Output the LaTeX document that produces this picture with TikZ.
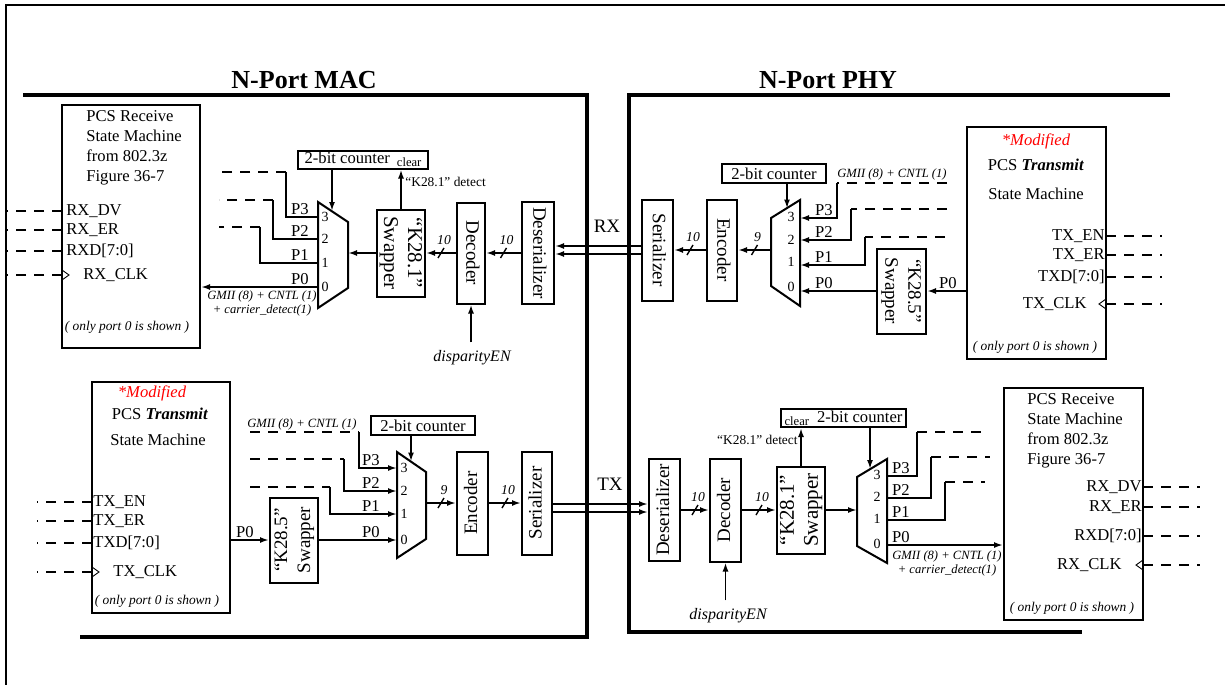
\documentclass[tikz,border=0pt]{standalone}
\usepackage{fontspec}
\setmainfont{Liberation Serif}
\usepackage{tikz}
\usetikzlibrary{arrows.meta,calc,positioning}

\newcommand{\txtfont}{\fontsize{8.3}{10}\selectfont}
\newcommand{\blkfont}{\fontsize{9.5}{11.5}\selectfont}
\newcommand{\swfont}{\fontsize{10.5}{12}\selectfont}
\newcommand{\notefont}{\fontsize{6.3}{7.3}\selectfont\itshape}
\newcommand{\onlyfont}{\fontsize{6.7}{8}\selectfont\itshape}
\newcommand{\clrfont}{\fontsize{6.3}{7}\selectfont}
\newcommand{\numfont}{\fontsize{7}{8}\selectfont}
\newcommand{\widfont}{\fontsize{6.8}{8}\selectfont\itshape}
\newcommand{\ttlfont}{\fontsize{13}{15}\selectfont\bfseries}
\newcommand{\vdown}[1]{\rotatebox{-90}{\begin{tabular}{@{}c@{}}#1\end{tabular}}}
\newcommand{\vup}[1]{\rotatebox{90}{\begin{tabular}{@{}c@{}}#1\end{tabular}}}

\tikzset{
  blkbox/.style={draw, line width=1pt, inner sep=0pt, font=\blkfont},
  smbox/.style={draw, line width=1pt, inner sep=0pt,
    minimum width=69pt, minimum height=116pt},
  cntbox/.style={draw, line width=1pt, inner sep=0pt,
    minimum height=9pt, font=\txtfont},
  smtext/.style={font=\txtfont, align=left, inner sep=0pt},
  modlabel/.style={font=\txtfont\itshape, text=red, inner sep=0pt},
  portlabel/.style={font=\txtfont, inner sep=0.5pt},
  plabel/.style={font=\txtfont, inner sep=0.5pt, anchor=south},
  muxnum/.style={font=\numfont, inner sep=0pt},
  notelabel/.style={font=\notefont, inner sep=0pt},
  onlylabel/.style={font=\onlyfont, inner sep=0pt},
  sidelabel/.style={font=\ttlfont, inner sep=0pt},
  linklabel/.style={font=\blkfont, inner sep=0pt},
  wire/.style={line width=0.9pt},
  wirearr/.style={wire, -{Latex[length=4.5pt,width=3pt]}},
  dwire/.style={line width=0.9pt, dash pattern=on 5pt off 4pt},
  muxedge/.style={line width=1pt},
  clk/.style={line width=0.45pt},
  border/.style={line width=1.8pt},
  frame/.style={line width=0.6pt},
  pics/buscut/.style={code={
    \draw[wire, line width=0.7pt] (-3,5) -- (3,-5);
    \node[font=\widfont, inner sep=0pt] (-w) at (3,-13) {#1};
  }}
}

\begin{document}
\begin{tikzpicture}[x=0.5pt, y=-0.5pt]
  \useasboundingbox (0,0) rectangle (1225,685);
  %\draw[help lines, step=50] (0,0) grid (1225,685);

  % ==== FRAME and SIDES ====
  \draw[frame] (1225,5) -- (6,5) -- (6,685);
  \node[sidelabel] (macTitle) at (304,80) {N-Port MAC};
  \node[sidelabel] (phyTitle) at (828,80) {N-Port PHY};
  \draw[border] (23,95) -- (587,95) -- (587,637) -- (80,637);
  \draw[border] (1170,95) -- (629,95) -- (629,632) -- (1082,632);

  % ==== MAC RECEIVE (top left) ====
  \node[smbox, minimum height=121.5pt] (mRxSM) at (131,226.5) {};
  \node[smtext, anchor=west] (mRxTxt) at (86,148)
    {PCS Receive\\State Machine\\from 802.3z\\Figure 36-7};
  \foreach \n/\lbl/\y in {DV/RX\_DV/211, ER/RX\_ER/230, D/RXD[7:0]/251}{
    \coordinate (mRxP\n) at (62,\y);
    \coordinate (mRxQ\n) at (7,\y);
    \node[portlabel, anchor=west] (mRxL\n) at ($(mRxP\n)+(3,0)$) {\lbl};
    \draw[dwire] (mRxP\n) -- (mRxQ\n);
  }
  \coordinate (mRxPC) at (62,275);
  \coordinate (mRxQC) at (7,275);
  \draw[dwire] (mRxPC) -- (mRxQC);
  \draw[clk] ($(mRxPC)+(0,-5)$) -- ($(mRxPC)+(7,0)$) -- ($(mRxPC)+(0,5)$);
  \node[portlabel, anchor=west] (mRxLC) at (82,275) {RX\_CLK};
  \node[onlylabel] (mRxOnly) at (127,327) {( only port 0 is shown )};

  \node[blkbox, minimum width=16pt, minimum height=51pt] (mDes) at (538,253)
    {\vdown{Deserializer}};
  \node[blkbox, minimum width=14pt, minimum height=50.5pt] (mDec) at (471,253)
    {\vdown{Decoder}};
  \node[blkbox, font=\swfont, minimum width=24pt, minimum height=43.5pt]
    (mRxSw) at (401,253) {\vdown{``K28.1''\\Swapper}};
  \node[cntbox, minimum width=65pt] (mRxCnt) at (363,159.5)
    {2-bit counter\hspace{3.5pt}\raisebox{-1.6pt}{\clrfont clear}};

  % demux
  \draw[muxedge] (318,202) -- (348,222) -- (348,288) -- (318,308) -- cycle;
  \coordinate (mRxMsel) at (332,211);
  \coordinate (mRxMin) at (348,253);
  \foreach \p/\y in {3/217, 2/239, 1/263, 0/287}{
    \coordinate (mRxM\p) at (318,\y);
    \node[muxnum] (mRxN\p) at (325,\y) {\p};
    \node[plabel] (mRxL\p) at (300,\y-1) {P\p};
  }
  \foreach \p/\kx/\ky in {3/286/172, 2/273/200, 1/260/227}{
    \coordinate (mRxK\p) at (\kx,\ky);
    \coordinate (mRxE\p) at (219,\ky);
    \draw[wire] (mRxM\p) -| (mRxK\p);
    \draw[dwire] (mRxK\p) -- (mRxE\p);
  }
  \draw[wirearr] (mRxM0) -- (mRxM0 -| mRxSM.east);
  \node[notelabel, align=center, anchor=north] (mRxNote) at (262,290)
    {GMII (8) + CNTL (1)\\+ carrier\_detect(1)};

  \draw[wirearr] (mRxSw.west) -- (mRxMin);
  \draw[wirearr] (mDec.west) -- (mRxSw.east);
  \pic (mRxW1) at ($(mDec.west)!0.5!(mRxSw.east)$) {buscut=10};
  \draw[wirearr] (mDes.west) -- (mDec.east);
  \pic (mRxW2) at ($(mDes.west)!0.5!(mDec.east)$) {buscut=10};
  \draw[wirearr] (mRxMsel |- mRxCnt.south) -- (mRxMsel);
  \draw[wirearr] (mRxSw.north) -- (mRxSw.north |- mRxCnt.south);
  \node[notelabel, font=\fontsize{6.7}{8}\selectfont, anchor=west] (mRxDet)
    at (405,182) {``K28.1'' detect};
  \node[notelabel, font=\fontsize{8}{9}\selectfont\itshape] (mDisp)
    at (472,358) {disparityEN};
  \draw[wirearr] ($(mDec.south |- mDisp.north)+(0,-8)$) -- (mDec.south);

  % ==== PHY TRANSMIT (top right) ====
  \node[smbox, minimum width=69.5pt] (pTxSM) at (1036.5,243) {};
  \node[modlabel] (pTxMod) at (1036,141) {*Modified};
  \node[smtext] (pTxT1) at (1036,165) {PCS \textbf{\textit{Transmit}}};
  \node[smtext] (pTxT2) at (1036,194) {State Machine};
  \foreach \n/\lbl/\y in {EN/TX\_EN/236, ER/TX\_ER/255, D/TXD[7:0]/277}{
    \coordinate (pTxP\n) at (1106,\y);
    \coordinate (pTxQ\n) at (1162,\y);
    \node[portlabel, anchor=east] (pTxL\n) at (pTxP\n) {\lbl};
    \draw[dwire] (pTxP\n) -- (pTxQ\n);
  }
  \coordinate (pTxPC) at (1106,304);
  \coordinate (pTxQC) at (1162,304);
  \draw[dwire] (pTxPC) -- (pTxQC);
  \draw[clk] ($(pTxPC)+(0,-5)$) -- ($(pTxPC)+(-7,0)$) -- ($(pTxPC)+(0,5)$);
  \node[portlabel, anchor=east] (pTxLC) at (1088,304) {TX\_CLK};
  \node[onlylabel] (pTxOnly) at (1035,347) {( only port 0 is shown )};

  \node[blkbox, minimum width=15.5pt, minimum height=50.5pt] (pSer) at (657.5,250)
    {\vdown{Serializer}};
  \node[blkbox, minimum width=15pt, minimum height=50.5pt] (pEnc) at (722,250)
    {\vdown{Encoder}};
  \node[blkbox, minimum width=24.5pt, minimum height=42.5pt] (pTxSw) at (901.5,291)
    {\vdown{``K28.5''\\Swapper}};
  \node[cntbox, minimum width=52pt, minimum height=9.5pt] (pTxCnt) at (774,173.5)
    {2-bit counter};

  % mux
  \draw[muxedge] (771,218) -- (800,200) -- (800,306) -- (771,286) -- cycle;
  \coordinate (pTxMsel) at (787,208.5);
  \coordinate (pTxMout) at (771,250);
  \foreach \p/\y/\ny in {3/218/217, 2/240/240, 1/265/262, 0/291/287}{
    \coordinate (pTxM\p) at (800,\y);
    \node[muxnum] (pTxN\p) at (791,\ny) {\p};
    \node[plabel] (pTxL\p) at (824,\y-1) {P\p};
  }
  \foreach \p/\kx/\ky/\ex in {3/837/183/947, 2/851/209/947, 1/865/237/945}{
    \coordinate (pTxK\p) at (\kx,\ky);
    \coordinate (pTxE\p) at (\ex,\ky);
    \draw[dwire] (pTxE\p) -- (pTxK\p);
    \draw[wirearr] (pTxK\p) |- (pTxM\p);
  }
  \node[notelabel] (pTxNote) at (892,174) {GMII (8) + CNTL (1)};
  \draw[wirearr] (pTxSw.west) -- (pTxM0);
  \draw[wirearr] (pTxSw.east -| pTxSM.west) -- (pTxSw.east);
  \node[plabel] (pTxL0b) at (948,290) {P0};

  \draw[wirearr] (pTxMsel |- pTxCnt.south) -- (pTxMsel);
  \draw[wirearr] (pTxMout) -- (pEnc.east);
  \pic (pTxW1) at ($(pTxMout)!0.5!(pEnc.east)$) {buscut=9};
  \draw[wirearr] (pEnc.west) -- (pSer.east);
  \pic (pTxW2) at ($(pEnc.west)!0.5!(pSer.east)$) {buscut=10};

  % ==== RX link ====
  \draw[wirearr] ($(pSer.west)+(0,-4)$) -- ($(pSer.west -| mDes.east)+(0,-4)$);
  \draw[wirearr] ($(pSer.west)+(0,4)$) -- ($(pSer.west -| mDes.east)+(0,4)$);
  \node[linklabel] (rxLbl) at (607,226) {RX};

  % ==== MAC TRANSMIT (bottom left) ====
  \node[smbox, minimum height=115.5pt] (mTxSM) at (161,497.5) {};
  \node[modlabel] (mTxMod) at (152,393) {*Modified};
  \node[smtext] (mTxT1) at (160,414) {PCS \textbf{\textit{Transmit}}};
  \node[smtext] (mTxT2) at (158,440) {State Machine};
  \foreach \n/\lbl/\y in {EN/TX\_EN/502, ER/TX\_ER/521, D/TXD[7:0]/543}{
    \coordinate (mTxP\n) at (92,\y);
    \coordinate (mTxQ\n) at (37,\y);
    \node[portlabel, anchor=west] (mTxL\n) at (mTxP\n) {\lbl};
    \draw[dwire] (mTxP\n) -- (mTxQ\n);
  }
  \coordinate (mTxPC) at (92,572);
  \coordinate (mTxQC) at (37,572);
  \draw[dwire] (mTxPC) -- (mTxQC);
  \draw[clk] ($(mTxPC)+(0,-5)$) -- ($(mTxPC)+(7,0)$) -- ($(mTxPC)+(0,5)$);
  \node[portlabel, anchor=west] (mTxLC) at (112,572) {TX\_CLK};
  \node[onlylabel] (mTxOnly) at (157,601) {( only port 0 is shown )};

  \node[blkbox, minimum width=24pt, minimum height=42.5pt] (mTxSw) at (294,540)
    {\vup{``K28.5''\\Swapper}};
  \node[blkbox, minimum width=15.5pt, minimum height=51.5pt] (mEnc) at (472.5,503)
    {\vup{Encoder}};
  \node[blkbox, minimum width=15pt, minimum height=51.5pt] (mSer) at (537,503)
    {\vup{Serializer}};
  \node[cntbox, minimum width=52pt, minimum height=9.5pt] (mTxCnt) at (423,425.5)
    {2-bit counter};

  % mux
  \draw[muxedge] (397,452) -- (426,472) -- (426,539) -- (397,558) -- cycle;
  \coordinate (mTxMsel) at (411,461.5);
  \coordinate (mTxMout) at (426,503);
  \foreach \p/\y in {3/468, 2/491, 1/514, 0/540}{
    \coordinate (mTxM\p) at (397,\y);
    \node[muxnum] (mTxN\p) at (404,\y) {\p};
    \node[plabel] (mTxL\p) at (371,\y-1) {P\p};
  }
  \foreach \p/\kx/\ky in {3/359/432, 2/344/459, 1/330/487}{
    \coordinate (mTxK\p) at (\kx,\ky);
    \coordinate (mTxE\p) at (250,\ky);
    \draw[dwire] (mTxE\p) -- (mTxK\p);
    \draw[wirearr] (mTxK\p) |- (mTxM\p);
  }
  \node[notelabel] (mTxNote) at (302,424) {GMII (8) + CNTL (1)};
  \draw[wirearr] (mTxSw.east) -- (mTxM0);
  \draw[wirearr] (mTxSw.west -| mTxSM.east) -- (mTxSw.west);
  \node[plabel] (mTxL0b) at (245,539) {P0};

  \draw[wirearr] (mTxMsel |- mTxCnt.south) -- (mTxMsel);
  \draw[wirearr] (mTxMout) -- (mEnc.west);
  \pic (mTxW1) at ($(mTxMout)!0.5!(mEnc.west)$) {buscut=9};
  \draw[wirearr] (mEnc.east) -- (mSer.west);
  \pic (mTxW2) at ($(mEnc.east)!0.5!(mSer.west)$) {buscut=10};

  % ==== PHY RECEIVE (bottom right) ====
  \node[smbox, minimum width=69.5pt] (pRxSM) at (1073.5,504) {};
  \node[smtext, anchor=west] (pRxTxt) at (1027,431)
    {PCS Receive\\State Machine\\from 802.3z\\Figure 36-7};
  \foreach \n/\lbl/\y in {DV/RX\_DV/487, ER/RX\_ER/507, D/RXD[7:0]/536}{
    \coordinate (pRxP\n) at (1143,\y);
    \coordinate (pRxQ\n) at (1200,\y);
    \node[portlabel, anchor=east] (pRxL\n) at (pRxP\n) {\lbl};
    \draw[dwire] (pRxP\n) -- (pRxQ\n);
  }
  \coordinate (pRxPC) at (1143,565);
  \coordinate (pRxQC) at (1200,565);
  \draw[dwire] (pRxPC) -- (pRxQC);
  \draw[clk] ($(pRxPC)+(0,-5)$) -- ($(pRxPC)+(-7,0)$) -- ($(pRxPC)+(0,5)$);
  \node[portlabel, anchor=east] (pRxLC) at (1123,565) {RX\_CLK};
  \node[onlylabel] (pRxOnly) at (1072,608) {( only port 0 is shown )};

  \node[blkbox, minimum width=15.5pt, minimum height=51pt] (pDes) at (664.5,510)
    {\vup{Deserializer}};
  \node[blkbox, minimum width=15.5pt, minimum height=51.5pt] (pDec) at (725.5,510)
    {\vup{Decoder}};
  \node[blkbox, font=\swfont, minimum width=24pt, minimum height=43.5pt]
    (pRxSw) at (801,510) {\vup{``K28.1''\\Swapper}};
  \node[cntbox, minimum width=62.5pt] (pRxCnt) at (843.5,418)
    {\raisebox{-1.6pt}{\clrfont clear}\hspace{4pt}2-bit counter};

  % demux
  \draw[muxedge] (857,477) -- (887,459) -- (887,563) -- (857,546) -- cycle;
  \coordinate (pRxMsel) at (870,469);
  \coordinate (pRxMin) at (857,510);
  \foreach \p/\y in {3/476, 2/498, 1/520, 0/545}{
    \coordinate (pRxM\p) at (887,\y);
    \node[muxnum] (pRxN\p) at (877,\y-1) {\p};
    \node[plabel] (pRxL\p) at (901,\y-1) {P\p};
  }
  \foreach \p/\kx/\ky/\ex in {3/917/432/985, 2/931/457/990, 1/945/482/985}{
    \coordinate (pRxK\p) at (\kx,\ky);
    \coordinate (pRxE\p) at (\ex,\ky);
    \draw[wire] (pRxM\p) -| (pRxK\p);
    \draw[dwire] (pRxK\p) -- (pRxE\p);
  }
  \draw[wirearr] (pRxM0) -- (pRxM0 -| pRxSM.west);
  \node[notelabel, align=center, anchor=north] (pRxNote) at (947,550)
    {GMII (8) + CNTL (1)\\+ carrier\_detect(1)};

  \draw[wirearr] (pRxSw.east) -- (pRxMin);
  \draw[wirearr] (pDec.east) -- (pRxSw.west);
  \pic (pRxW1) at ($(pDec.east)!0.5!(pRxSw.west)$) {buscut=10};
  \draw[wirearr] (pDes.east) -- (pDec.west);
  \pic (pRxW2) at ($(pDes.east)!0.5!(pDec.west)$) {buscut=10};
  \draw[wirearr] (pRxMsel |- pRxCnt.south) -- (pRxMsel);
  \draw[wirearr] (pRxSw.north) -- (pRxSw.north |- pRxCnt.south);
  \node[notelabel, font=\fontsize{6.7}{8}\selectfont, anchor=east] (pRxDet)
    at (798,440) {``K28.1'' detect};
  \node[notelabel, font=\fontsize{8}{9}\selectfont\itshape] (pDisp)
    at (728,616) {disparityEN};
  \draw[wirearr] ($(pDec.south |- pDisp.north)+(0,-8)$) -- (pDec.south);

  % ==== TX link ====
  \draw[wirearr] ($(mSer.east)+(0,1)$) -- ($(mSer.east -| pDes.west)+(0,1)$);
  \draw[wirearr] ($(mSer.east)+(0,9)$) -- ($(mSer.east -| pDes.west)+(0,9)$);
  \node[linklabel] (txLbl) at (610,484) {TX};
\end{tikzpicture}
\end{document}
